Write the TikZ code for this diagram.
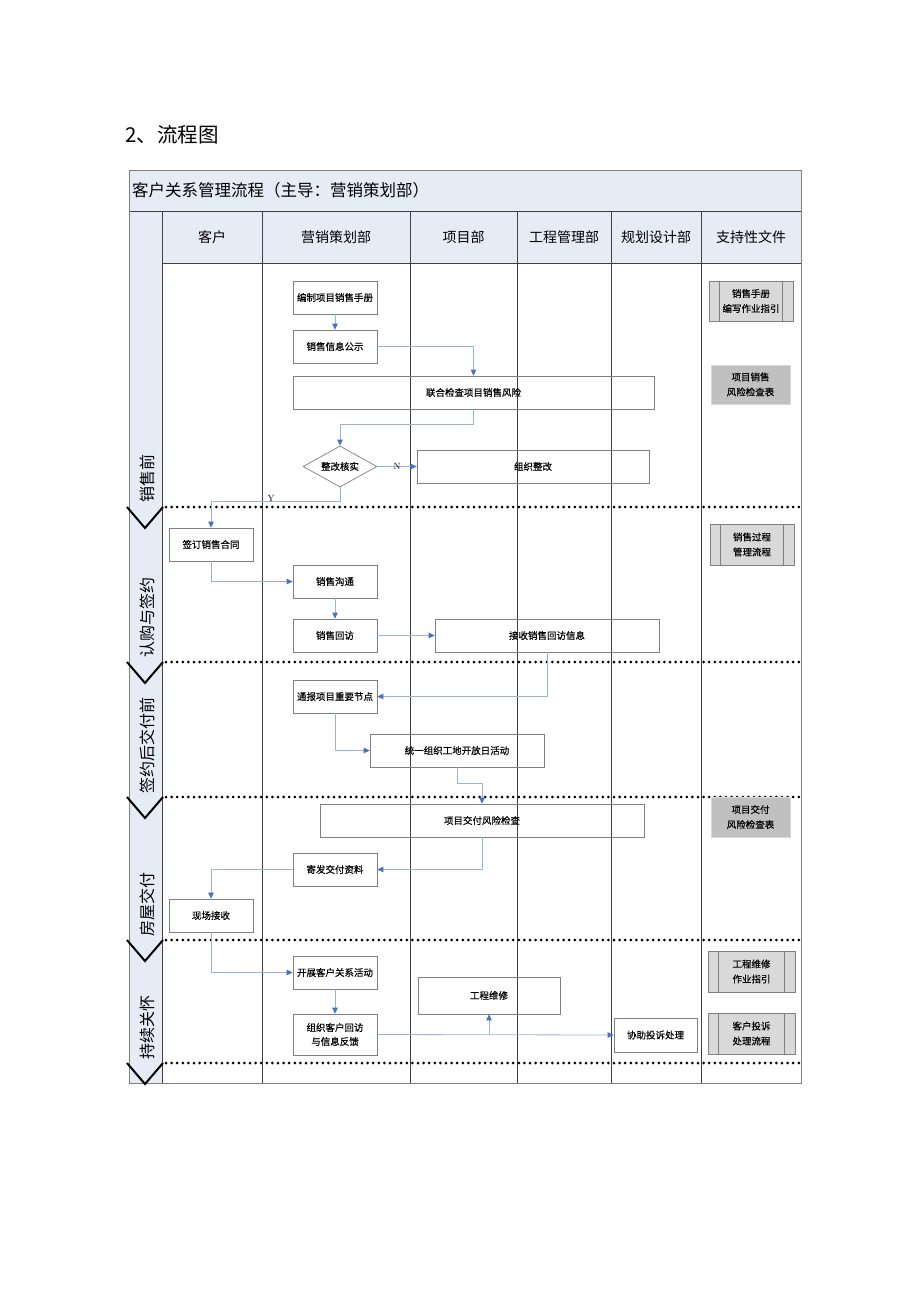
\documentclass[tikz,border=0pt]{standalone}
\usepackage{fontspec}
\newfontfamily\cjk{Noto Sans CJK SC}
\newfontfamily\cjkb[FakeBold=0.4]{Noto Sans CJK SC}
\usetikzlibrary{arrows.meta,shapes.geometric}
\definecolor{hdr}{HTML}{E6ECF6}
\definecolor{lineblue}{HTML}{97B4E0}
\definecolor{tipblue}{HTML}{4472C4}
\definecolor{boxgray}{HTML}{808080}
\definecolor{docfill}{HTML}{D9D9D9}
\definecolor{docfilltwo}{HTML}{C0C0C0}
\definecolor{gridline}{HTML}{404040}
\tikzset{
  stepbox/.style={draw=boxgray, line width=0.7pt, inner sep=0pt, align=center,
    font=\cjkb\fontsize{9.5}{14}\selectfont},
  decision/.style={diamond, draw=boxgray, line width=0.7pt, inner sep=0pt, aspect=1.8,
    font=\cjkb\fontsize{9.5}{14}\selectfont},
  docbox/.style={draw=boxgray, line width=0.7pt, fill=docfill, inner sep=0pt, align=center,
    font=\cjkb\fontsize{9.5}{15}\selectfont},
  docboxtwo/.style={draw=docfill, line width=0.7pt, fill=docfilltwo, inner sep=0pt, align=center,
    font=\cjkb\fontsize{9.5}{15}\selectfont},
  flow/.style={draw=lineblue, line width=0.8pt, -{Triangle[length=6pt,width=5.5pt,color=tipblue]}},
  lanesep/.style={line width=3pt, line cap=round, dash pattern=on 0pt off 5.6pt, black},
  chev/.style={line width=2pt, black},
  colline/.style={draw=gridline, line width=0.7pt},
  colhead/.style={font=\cjk\fontsize{14}{16}\selectfont},
  lanelabel/.style={font=\cjk\fontsize{16}{18}\selectfont, rotate=90, anchor=west, inner sep=0pt},
  yn/.style={font=\fontsize{9}{10}\selectfont, inner sep=0pt}
}
\begin{document}
\begin{tikzpicture}[x=1pt,y=-1pt]
\useasboundingbox (0,0) rectangle (920,1302);
\fill[white] (0,0) rectangle (920,1302);

% title
\node[font=\cjk\fontsize{20.5}{22}\selectfont, anchor=west, inner sep=0pt] (pagetitle) at (125,135) {2、流程图};

% backgrounds
\fill[hdr] (129,170) rectangle (801,263);
\fill[hdr] (129,263) rectangle (162,1083);

% table title
\node[font=\cjk\fontsize{16.5}{18}\selectfont, anchor=west, inner sep=0pt] (tabtitle) at (132,190) {客户关系管理流程（主导：营销策划部）};

% grid lines
\draw[colline] (129,211) -- (801,211);
\draw[colline] (162,263) -- (801,263);
\foreach \cx in {162,262,410,517,611,701} {
  \draw[colline] (\cx,211) -- (\cx,1083);
}
\draw[draw=boxgray, line width=0.8pt] (129,170) rectangle (801,1083);

% column headers
\node[colhead] (hA) at (212,237) {客户};
\node[colhead] (hB) at (336,237) {营销策划部};
\node[colhead] (hC) at (463.5,237) {项目部};
\node[colhead] (hD) at (564,237) {工程管理部};
\node[colhead] (hE) at (656,237) {规划设计部};
\node[colhead] (hF) at (751,237) {支持性文件};

% lane separators and chevrons
\foreach \ly in {507,662,797,940,1063} {
  \draw[lanesep] (166,\ly) -- (801,\ly);
  \draw[chev] (127,\ly) -- (145,\ly+21) -- (163,\ly);
}

% lane labels
\node[lanelabel] (l1) at (147,503) {销售前};
\node[lanelabel] (l2) at (147,658) {认购与签约};
\node[lanelabel] (l3) at (147,794) {签约后交付前};
\node[lanelabel] (l4) at (147,937) {房屋交付};
\node[lanelabel] (l5) at (147,1060) {持续关怀};

% process boxes
\node[stepbox, minimum width=84pt, minimum height=33pt] (b1) at (335,297.5) {编制项目销售手册};
\node[stepbox, minimum width=84pt, minimum height=33pt] (b2) at (335,346.5) {销售信息公示};
\node[stepbox, minimum width=361pt, minimum height=33pt] (b3) at (473.5,392.5) {联合检查项目销售风险};
\node[decision, minimum width=74pt, minimum height=41pt] (d1) at (340,466.5) {整改核实};
\node[stepbox, minimum width=232pt, minimum height=33pt] (b4) at (533,466.5) {组织整改};
\node[stepbox, minimum width=84pt, minimum height=33pt] (b5) at (211,544.5) {签订销售合同};
\node[stepbox, minimum width=84pt, minimum height=33pt] (b6) at (335,581.5) {销售沟通};
\node[stepbox, minimum width=84pt, minimum height=33pt] (b7) at (335,635.5) {销售回访};
\node[stepbox, minimum width=224pt, minimum height=33pt] (b8) at (547,635.5) {接收销售回访信息};
\node[stepbox, minimum width=84pt, minimum height=33pt] (b9) at (335,696.5) {通报项目重要节点};
\node[stepbox, minimum width=174pt, minimum height=33pt] (b10) at (457,750.5) {统一组织工地开放日活动};
\node[stepbox, minimum width=324pt, minimum height=33pt] (b11) at (482,820.5) {项目交付风险检查};
\node[stepbox, minimum width=84pt, minimum height=33pt] (b12) at (335,869.5) {寄发交付资料};
\node[stepbox, minimum width=84pt, minimum height=33pt] (b13) at (211,915.5) {现场接收};
\node[stepbox, minimum width=84pt, minimum height=33pt] (b14) at (335,972.5) {开展客户关系活动};
\node[stepbox, minimum width=142pt, minimum height=37pt] (b15) at (489,995.5) {工程维修};
\node[stepbox, minimum width=84pt, minimum height=41pt] (b16) at (335,1034.5) {组织客户回访\\与信息反馈};
\node[stepbox, minimum width=83pt, minimum height=34pt] (b17) at (655.5,1035) {协助投诉处理};

% support documents
\node[docbox, minimum width=84pt, minimum height=40pt] (s1) at (751,301) {销售手册\\编写作业指引};
\node[docboxtwo, minimum width=79pt, minimum height=39pt] (s2) at (750.5,384.5) {项目销售\\风险检查表};
\node[docbox, minimum width=84pt, minimum height=41pt] (s3) at (752,544.5) {销售过程\\管理流程};
\node[docboxtwo, minimum width=79pt, minimum height=40pt] (s4) at (750.5,817) {项目交付\\风险检查表};
\node[docbox, minimum width=87pt, minimum height=41pt] (s5) at (751.5,971.5) {工程维修\\作业指引};
\node[docbox, minimum width=87pt, minimum height=41pt] (s6) at (751.5,1033.5) {客户投诉\\处理流程};
\foreach \s in {s1,s3,s5,s6} {
  \draw[draw=boxgray, line width=0.7pt] ([xshift=11pt]\s.north west) -- ([xshift=11pt]\s.south west);
  \draw[draw=boxgray, line width=0.7pt] ([xshift=-11pt]\s.north east) -- ([xshift=-11pt]\s.south east);
}

% connectors
\draw[flow] (b1.south) -- (b2.north);
\draw[flow] (b2.east) -| (b3.north);
\draw[flow] (b3.south) -- ++(0,15) -| (d1.north);
\draw[flow] (d1.east) -- node[yn, pos=0.5] {N} (b4.west);
\draw[flow] (d1.south) -- ++(0,14) -| (b5.north);
\node[yn] (ylab) at (271,498) {Y};
\draw[flow] (b5.south) |- (b6.west);
\draw[flow] (b6.south) -- (b7.north);
\draw[flow] (b7.east) -- (b8.west);
\draw[flow] (b8.south) |- (b9.east);
\draw[flow] (b9.south) |- (b10.west);
\draw[flow] (b10.south) -- ++(0,16) -| (b11.north);
\draw[flow] (b11.south) |- (b12.east);
\draw[flow] (b12.west) -| (b13.north);
\draw[flow] (b13.south) |- (b14.west);
\draw[flow] (b14.south) -- (b16.north);
\draw[flow] (b16.east) -- (b17.west);
\coordinate (br) at (b15.south |- b16.east);
\draw[flow] (br) -- (b15.south);
\end{tikzpicture}
\end{document}
